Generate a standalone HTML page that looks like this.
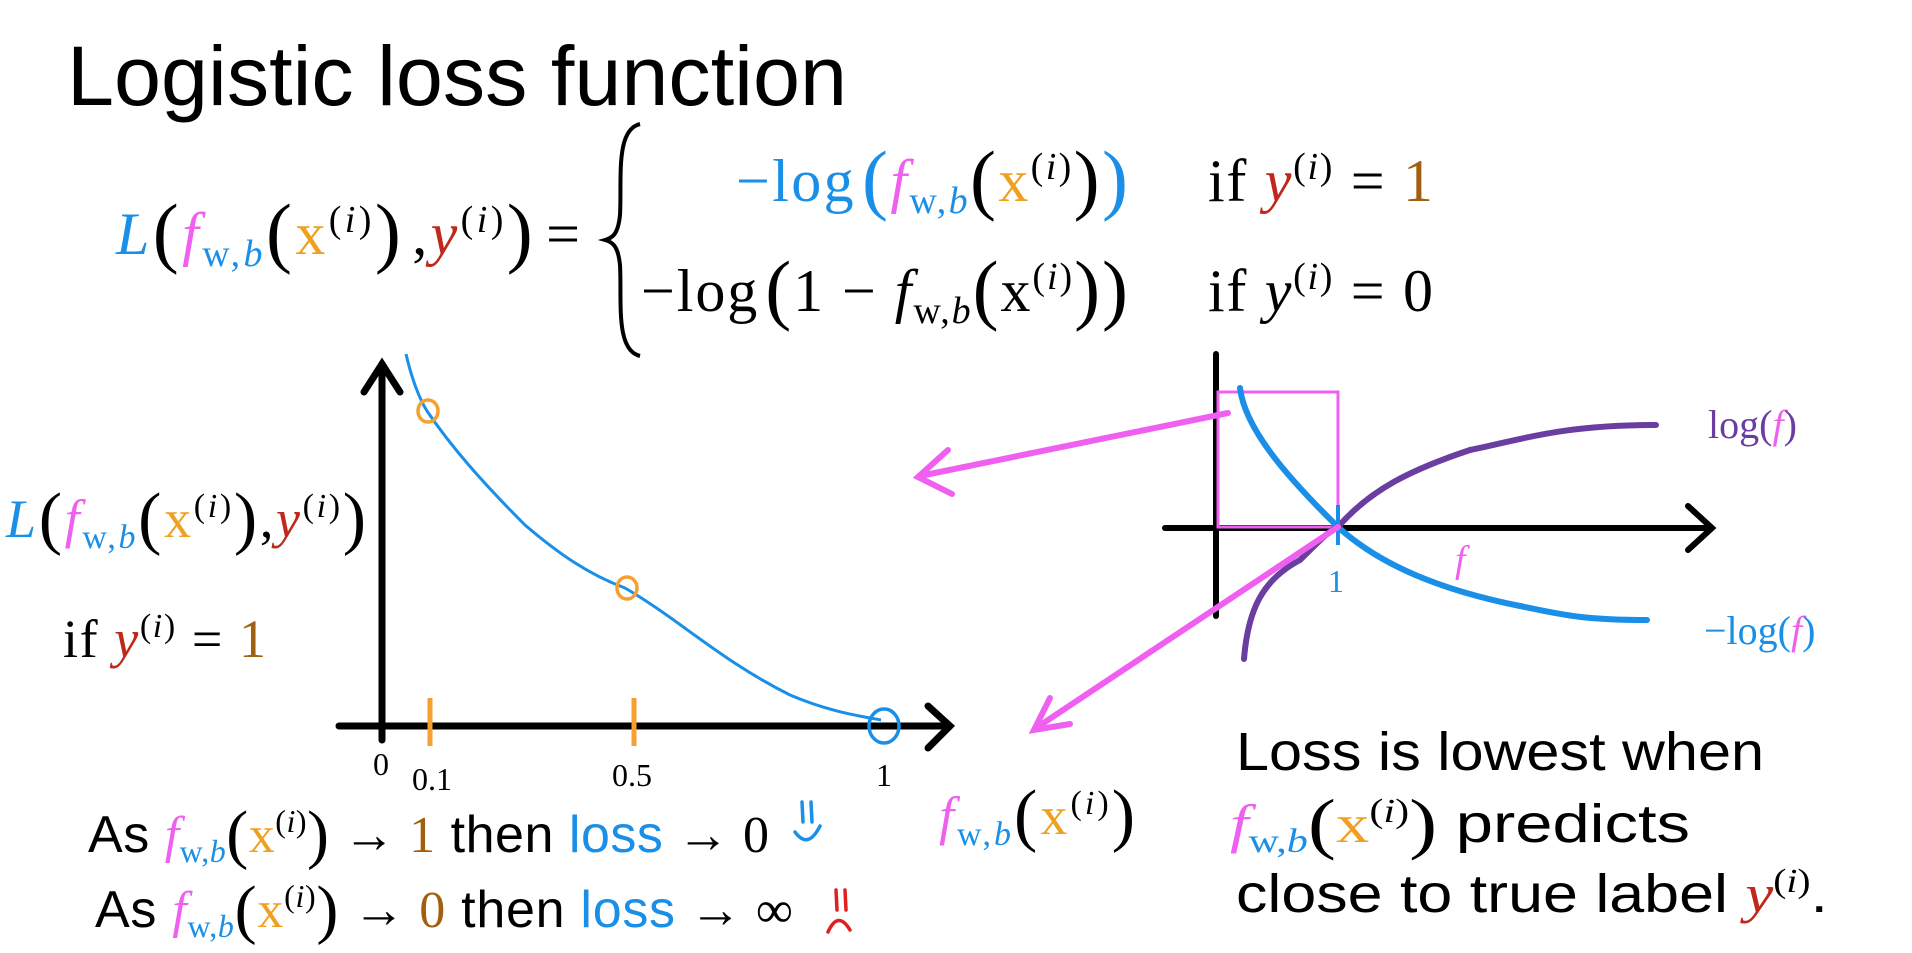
<!DOCTYPE html>
<html><head><meta charset="utf-8"><style>
html,body{margin:0;padding:0;background:#fff;width:1912px;height:953px;overflow:hidden}
svg{display:block}
.s{font-family:"Liberation Sans","DejaVu Sans",sans-serif}
.m{font-family:"Liberation Serif","DejaVu Serif",serif}
.i{font-style:italic}
</style></head><body>
<svg width="1912" height="953" viewBox="0 0 1912 953" xmlns="http://www.w3.org/2000/svg">
<text x="67" y="105" class="s" font-size="84" fill="#000" textLength="780" lengthAdjust="spacingAndGlyphs">Logistic loss function</text>

<g class="m" font-size="60">
<text x="116" y="254" textLength="464" lengthAdjust="spacing"><tspan class="i" fill="#1a8fe8">L</tspan><tspan font-size="78" dy="4">(</tspan><tspan class="i" fill="#f060f0" dy="-4">f</tspan><tspan font-size="38" fill="#1a8fe8" dy="12">w,</tspan><tspan class="i" font-size="38" fill="#1a8fe8">b</tspan><tspan font-size="78" dy="-8">(</tspan><tspan fill="#f0a020" dy="-4">x</tspan><tspan font-size="38" dy="-22">(</tspan><tspan font-size="38" class="i">i</tspan><tspan font-size="38">)</tspan><tspan font-size="78" dy="26">)</tspan><tspan dx="8" dy="-4">,</tspan><tspan class="i" fill="#c0281c">y</tspan><tspan font-size="38" dy="-22">(</tspan><tspan font-size="38" class="i">i</tspan><tspan font-size="38">)</tspan><tspan font-size="78" dy="26">)</tspan><tspan dx="10" dy="-4">=</tspan></text>
<path d="M640 124 C615 130 622 180 620 215 C618 235 612 238 605 240 C612 242 618 245 620 265 C622 300 615 350 640 356" fill="none" stroke="#000" stroke-width="4"/>
<text x="736" y="201" fill="#1a8fe8" textLength="392" lengthAdjust="spacing">−log<tspan font-size="78" dy="4" dx="6">(</tspan><tspan class="i" fill="#f060f0" dy="-4">f</tspan><tspan font-size="38" dy="12">w,</tspan><tspan class="i" font-size="38">b</tspan><tspan font-size="78" fill="#000" dy="-8">(</tspan><tspan fill="#f0a020" dy="-4">x</tspan><tspan font-size="38" fill="#000" dy="-22">(</tspan><tspan font-size="38" class="i" fill="#000">i</tspan><tspan font-size="38" fill="#000">)</tspan><tspan font-size="78" fill="#000" dy="26">)</tspan><tspan font-size="78">)</tspan></text>
<text x="1208" y="201" fill="#000" textLength="225" lengthAdjust="spacing">if <tspan class="i" fill="#c0281c">y</tspan><tspan font-size="38" dy="-22">(</tspan><tspan font-size="38" class="i">i</tspan><tspan font-size="38">)</tspan><tspan dy="22"> = </tspan><tspan fill="#a06010">1</tspan></text>
<text x="641" y="311" fill="#000" textLength="487" lengthAdjust="spacing">−log<tspan font-size="78" dy="4" dx="6">(</tspan><tspan dy="-4">1 − </tspan><tspan class="i">f</tspan><tspan font-size="38" dy="12">w,</tspan><tspan class="i" font-size="38">b</tspan><tspan font-size="78" dy="-8">(</tspan><tspan dy="-4">x</tspan><tspan font-size="38" dy="-22">(</tspan><tspan font-size="38" class="i">i</tspan><tspan font-size="38">)</tspan><tspan font-size="78" dy="26">)</tspan><tspan font-size="78">)</tspan></text>
<text x="1208" y="311" fill="#000" textLength="225" lengthAdjust="spacing">if <tspan class="i">y</tspan><tspan font-size="38" dy="-22">(</tspan><tspan font-size="38" class="i">i</tspan><tspan font-size="38">)</tspan><tspan dy="22"> = 0</tspan></text>
</g>

<g stroke="#000" stroke-width="7" fill="none" stroke-linecap="round">
<line x1="382" y1="740" x2="382" y2="364"/>
<polyline points="364,392 382,364 400,392"/>
<line x1="339" y1="726" x2="948" y2="726"/>
<polyline points="928,706 950,726 928,748"/>
</g>
<path d="M406 354 C412 380 420 400 427 411 C450 445 480 480 525 525 C560 555 590 575 625 588 C680 620 720 660 790 695 C830 712 860 716 881 720" fill="none" stroke="#1a8fe8" stroke-width="3"/>
<g stroke="#f5a030" stroke-width="5"><line x1="430" y1="698" x2="430" y2="746"/><line x1="634" y1="698" x2="634" y2="746"/></g>
<g fill="none" stroke="#f5a030" stroke-width="3.5"><ellipse cx="428" cy="411" rx="10" ry="11"/><ellipse cx="627" cy="588" rx="10" ry="11"/></g>
<ellipse cx="884" cy="726" rx="15" ry="17" fill="none" stroke="#1a8fe8" stroke-width="3.5"/>
<g class="m" font-size="32" fill="#000"><text x="373" y="775">0</text><text x="412" y="790">0.1</text><text x="612" y="786">0.5</text><text x="876" y="786">1</text></g>

<g class="m" font-size="54">
<text x="6" y="537" textLength="360" lengthAdjust="spacing"><tspan class="i" fill="#1a8fe8">L</tspan><tspan font-size="70" dy="4">(</tspan><tspan class="i" fill="#f060f0" dy="-4">f</tspan><tspan font-size="34" fill="#1a8fe8" dy="11">w,</tspan><tspan class="i" font-size="34" fill="#1a8fe8">b</tspan><tspan font-size="70" dy="-7">(</tspan><tspan fill="#f0a020" dy="-4">x</tspan><tspan font-size="34" dy="-20">(</tspan><tspan font-size="34" class="i">i</tspan><tspan font-size="34">)</tspan><tspan font-size="70" dy="24">)</tspan><tspan dy="-4">,</tspan><tspan class="i" fill="#c0281c">y</tspan><tspan font-size="34" dy="-20">(</tspan><tspan font-size="34" class="i">i</tspan><tspan font-size="34">)</tspan><tspan font-size="70" dy="24">)</tspan></text>
<text x="63" y="657" textLength="203" lengthAdjust="spacing">if <tspan class="i" fill="#c0281c">y</tspan><tspan font-size="34" dy="-20">(</tspan><tspan font-size="34" class="i">i</tspan><tspan font-size="34">)</tspan><tspan dy="20"> = </tspan><tspan fill="#a06010">1</tspan></text>
</g>

<g font-size="52">
<text x="88" y="852" textLength="681" lengthAdjust="spacing"><tspan class="s">As </tspan><tspan class="m i" fill="#f060f0">f</tspan><tspan class="m" font-size="32" fill="#1a8fe8" dy="10">w,</tspan><tspan class="m i" font-size="32" fill="#1a8fe8">b</tspan><tspan class="m" font-size="66" dy="-6">(</tspan><tspan class="m" fill="#f0a020" dy="-4">x</tspan><tspan class="m" font-size="32" dy="-20">(</tspan><tspan class="m i" font-size="32">i</tspan><tspan class="m" font-size="32">)</tspan><tspan class="m" font-size="66" dy="24">)</tspan><tspan class="m" dy="-4"> → </tspan><tspan class="m" fill="#a06010">1</tspan><tspan class="s"> then </tspan><tspan class="s" fill="#1a8fe8">loss</tspan><tspan class="m"> → 0</tspan></text>
<text x="95" y="927" textLength="698" lengthAdjust="spacing"><tspan class="s">As </tspan><tspan class="m i" fill="#f060f0">f</tspan><tspan class="m" font-size="32" fill="#1a8fe8" dy="10">w,</tspan><tspan class="m i" font-size="32" fill="#1a8fe8">b</tspan><tspan class="m" font-size="66" dy="-6">(</tspan><tspan class="m" fill="#f0a020" dy="-4">x</tspan><tspan class="m" font-size="32" dy="-20">(</tspan><tspan class="m i" font-size="32">i</tspan><tspan class="m" font-size="32">)</tspan><tspan class="m" font-size="66" dy="24">)</tspan><tspan class="m" dy="-4"> → </tspan><tspan class="m" fill="#a06010">0</tspan><tspan class="s"> then </tspan><tspan class="s" fill="#1a8fe8">loss</tspan><tspan class="m"> → ∞</tspan></text>
</g>
<g fill="none" stroke-width="3.5" stroke-linecap="round">
<g stroke="#1a8fe8"><line x1="802" y1="802" x2="803" y2="822"/><line x1="811" y1="802" x2="812" y2="822"/><path d="M795 832 Q808 850 820 826"/></g>
<g stroke="#e02020"><line x1="836" y1="890" x2="837" y2="910"/><line x1="845" y1="890" x2="846" y2="910"/><path d="M828 932 Q838 910 850 930"/></g>
</g>

<g stroke="#000" stroke-width="6" fill="none" stroke-linecap="round">
<line x1="1216" y1="354" x2="1216" y2="616"/>
<line x1="1165" y1="528" x2="1710" y2="528"/>
<polyline points="1688,506 1712,528 1688,550"/>
</g>
<rect x="1218" y="392" width="120" height="135" fill="none" stroke="#f060f0" stroke-width="3"/>
<path d="M1240 388 C1245 430 1290 480 1338 527 C1380 565 1440 590 1520 606 C1560 614 1580 620 1647 620" fill="none" stroke="#1a8fe8" stroke-width="6" stroke-linecap="round"/>
<path d="M1244 659 C1248 610 1262 580 1300 560 C1320 540 1330 530 1338 527 C1370 490 1410 470 1470 450 C1520 440 1560 425 1656 425" fill="none" stroke="#6a3ea0" stroke-width="6" stroke-linecap="round"/>
<line x1="1338" y1="505" x2="1338" y2="545" stroke="#1a8fe8" stroke-width="4"/>
<text x="1328" y="592" class="m" font-size="32" fill="#1a8fe8">1</text>
<text x="1455" y="572" class="m i" font-size="38" fill="#f060f0">f</text>
<text x="1708" y="438" class="m" font-size="40" fill="#6a3ea0">log(<tspan class="i" fill="#f060f0">f</tspan>)</text>
<text x="1704" y="644" class="m" font-size="40" fill="#1a8fe8">−log(<tspan class="i" fill="#f060f0">f</tspan>)</text>

<g stroke="#f060f0" stroke-width="6" fill="none" stroke-linecap="round">
<line x1="1228" y1="413" x2="920" y2="476"/>
<polyline points="948,450 918,477 952,494"/>
<line x1="1338" y1="527" x2="1036" y2="728"/>
<polyline points="1050,698 1034,730 1070,724"/>
</g>
<text x="939" y="834" class="m" font-size="54" textLength="196" lengthAdjust="spacing"><tspan class="i" fill="#f060f0">f</tspan><tspan font-size="34" fill="#1a8fe8" dy="11">w,</tspan><tspan class="i" font-size="34" fill="#1a8fe8">b</tspan><tspan font-size="70" dy="-7">(</tspan><tspan fill="#f0a020" dy="-4">x</tspan><tspan font-size="34" dy="-20">(</tspan><tspan font-size="34" class="i">i</tspan><tspan font-size="34">)</tspan><tspan font-size="70" dy="24">)</tspan></text>

<g font-size="54">
<text x="1236" y="770" class="s" textLength="528" lengthAdjust="spacingAndGlyphs">Loss is lowest when</text>
<text x="1230" y="842" textLength="460" lengthAdjust="spacingAndGlyphs"><tspan class="m i" fill="#f060f0">f</tspan><tspan class="m" font-size="34" fill="#1a8fe8" dy="10">w,</tspan><tspan class="m i" font-size="34" fill="#1a8fe8">b</tspan><tspan class="m" font-size="68" dy="-6">(</tspan><tspan class="m" fill="#f0a020" dy="-4">x</tspan><tspan class="m" font-size="34" dy="-20">(</tspan><tspan class="m i" font-size="34">i</tspan><tspan class="m" font-size="34">)</tspan><tspan class="m" font-size="68" dy="24">)</tspan><tspan class="s" dy="-4"> predicts</tspan></text>
<text x="1236" y="912" textLength="592" lengthAdjust="spacingAndGlyphs"><tspan class="s">close to true label </tspan><tspan class="m i" fill="#c0281c">y</tspan><tspan class="m" font-size="34" dy="-20">(</tspan><tspan class="m i" font-size="34">i</tspan><tspan class="m" font-size="34">)</tspan><tspan class="s" dy="20">.</tspan></text>
</g>
</svg>
</body></html>
